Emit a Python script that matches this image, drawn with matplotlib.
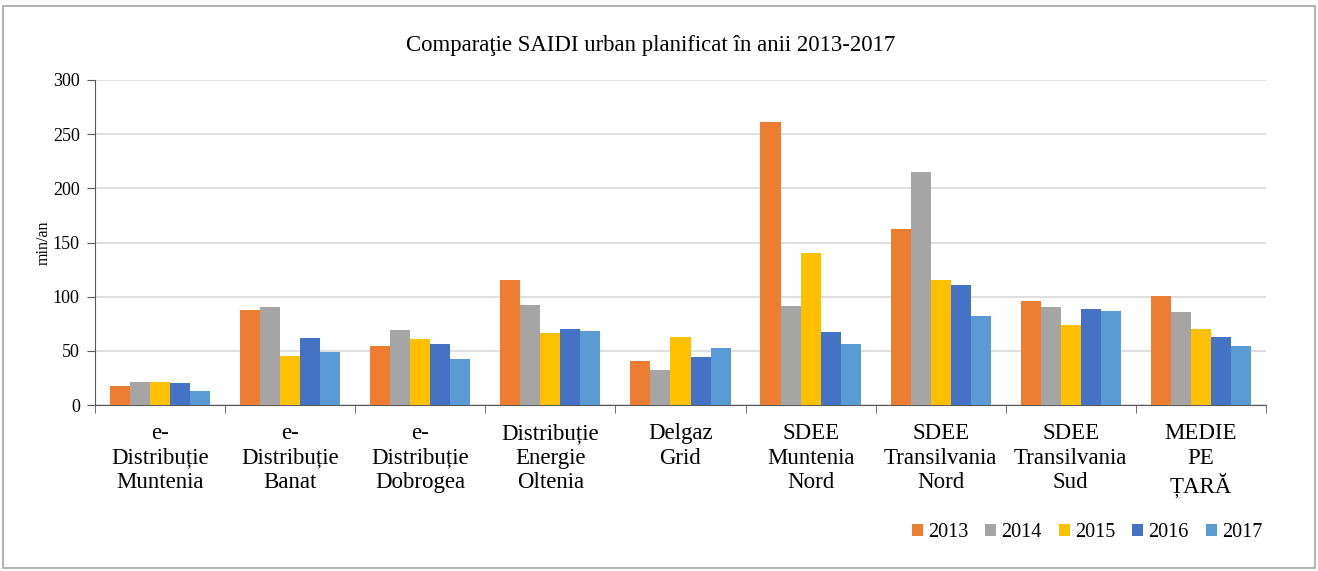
import numpy as np
import matplotlib.pyplot as plt
from matplotlib.patches import Rectangle

'''bar chart: SAIDI urban planificat 2013-2017'''

plt.rcParams['font.family'] = ['Liberation Serif', 'DejaVu Serif']

categories = ['e-\nDistribuție\nMuntenia', 'e-\nDistribuție\nBanat', 'e-\nDistribuție\nDobrogea',
              'Distribuție\nEnergie\nOltenia', 'Delgaz\nGrid', 'SDEE\nMuntenia\nNord',
              'SDEE\nTransilvania\nNord', 'SDEE\nTransilvania\nSud', 'MEDIE\nPE\nȚARĂ']
years = ['2013', '2014', '2015', '2016', '2017']

v2013 = [17.5, 87.7, 54.2, 115.4, 40.6, 260.9, 162.5, 96.3, 100.9]
v2014 = [21.2, 90.8, 69.2, 92.3, 32.6, 91.4, 215.1, 90.8, 85.8]
v2015 = [21.2, 45.5, 60.6, 66.8, 62.8, 140.3, 115.4, 73.8, 70.2]
v2016 = [20.6, 62.2, 56.6, 70.2, 44.0, 67.4, 110.5, 88.9, 62.8]
v2017 = [12.6, 49.2, 42.2, 68.3, 52.6, 56.6, 81.8, 86.8, 54.2]
series = [v2013, v2014, v2015, v2016, v2017]
colors = ['#ED7D31', '#A5A5A5', '#FFC000', '#4472C4', '#5B9BD5']

fig = plt.figure(figsize=(13.18, 5.71), dpi=100)
ax = fig.add_axes([0.0721, 0.2907, 0.8884, 0.5692])

x = np.arange(len(categories))
w = 0.154
for i, (vals, col, yr) in enumerate(zip(series, colors, years)):
    ax.bar(x + (i - 2) * w, vals, width=w, color=col, label=yr, zorder=3)

ax.set_xlim(-0.5, len(categories) - 0.5)
ax.set_ylim(0, 300)
ax.set_yticks(range(0, 301, 50))
ax.yaxis.grid(True, color='#D9D9D9', linewidth=1.2, zorder=0)
ax.tick_params(axis='y', labelsize=13, length=6, color='#595959', pad=5)

ax.set_xticks(x)
ax.set_xticklabels(categories, fontsize=16.5, linespacing=1.22)
ax.set_xticks(np.arange(-0.5, len(categories), 1), minor=True)
ax.tick_params(axis='x', which='major', length=0, pad=13)
ax.tick_params(axis='x', which='minor', length=6, color='#595959')

for s in ['top', 'right']:
    ax.spines[s].set_visible(False)
ax.spines['left'].set_color('#595959')
ax.spines['bottom'].set_color('#595959')

ax.set_ylabel('min/an', fontsize=11.5, labelpad=1)
fig.text(0.4935, 0.921, 'Comparaţie SAIDI urban planificat în anii 2013-2017',
         ha='center', va='center', fontsize=16.4)

fig.legend(loc='center right', bbox_to_anchor=(0.9716, 0.067), ncol=5, frameon=False,
           fontsize=14.5, handlelength=0.55, handleheight=0.55, handletextpad=0.25,
           columnspacing=0.85)

fig.patches.append(Rectangle((0.002, 0.005), 0.996, 0.985, transform=fig.transFigure,
                             fill=False, edgecolor='#A6A6A6', linewidth=1.2))

plt.savefig('out.png', dpi=100)
